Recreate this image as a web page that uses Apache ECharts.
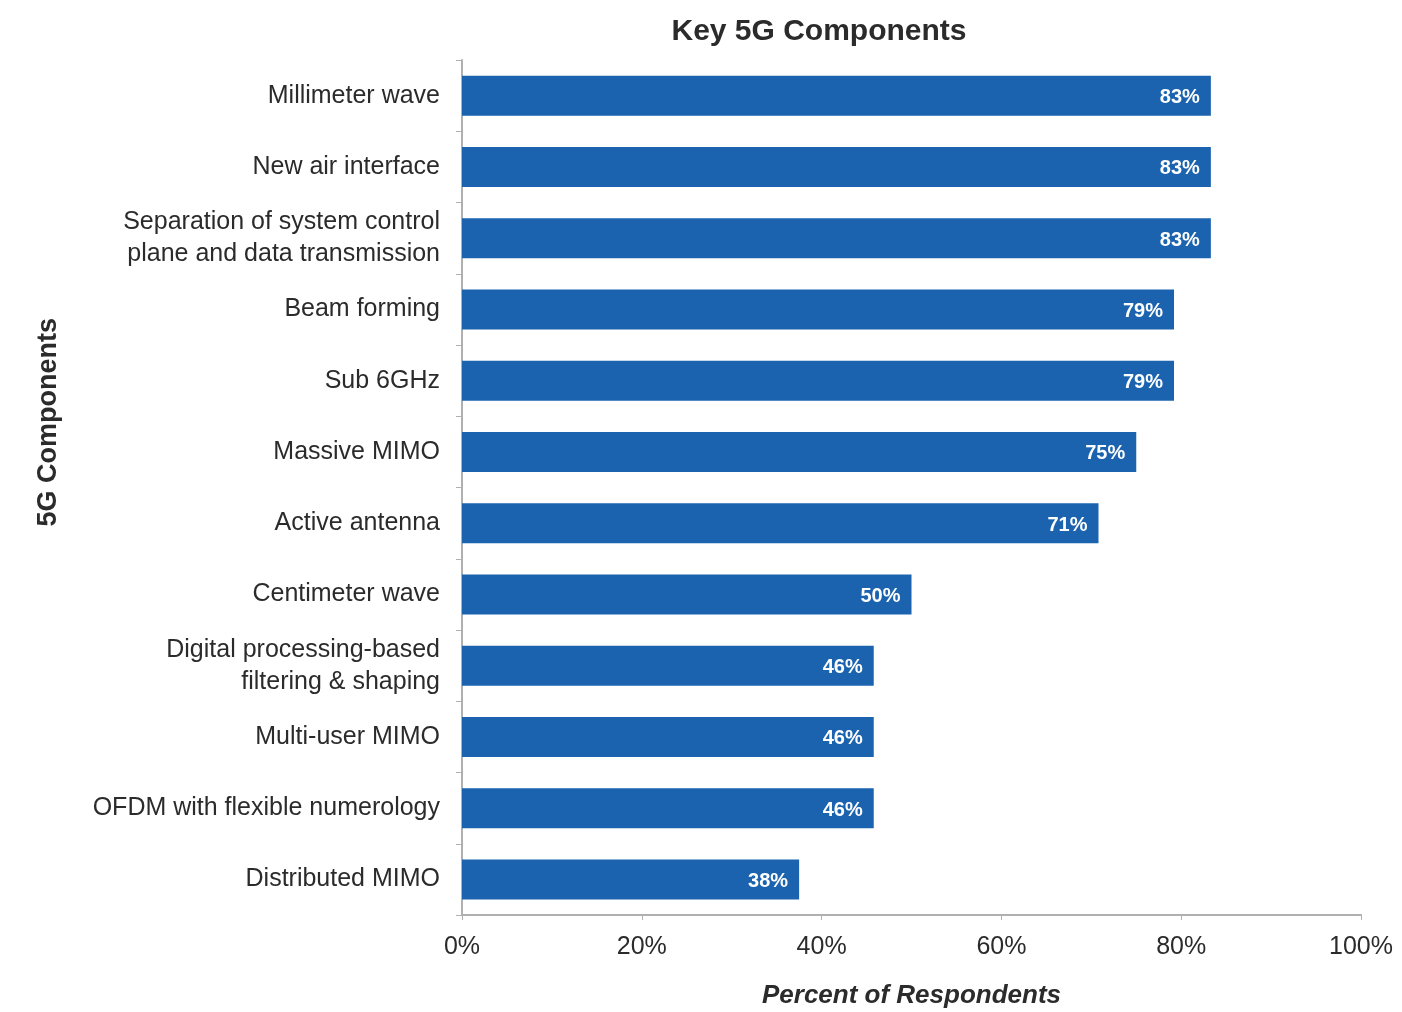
<!DOCTYPE html>
<html>
<head>
<meta charset="utf-8">
<script src="https://cdn.jsdelivr.net/npm/echarts@6/dist/echarts.min.js"></script>
<style>html,body{margin:0;padding:0;background:#fff;overflow:hidden}#c{width:1402px;height:1012px}</style>
</head>
<body>
<div id="c"></div>
<script>
const categories = [
  "Millimeter wave",
  "New air interface",
  "Separation of system control\nplane and data transmission",
  "Beam forming",
  "Sub 6GHz",
  "Massive MIMO",
  "Active antenna",
  "Centimeter wave",
  "Digital processing-based\nfiltering & shaping",
  "Multi-user MIMO",
  "OFDM with flexible numerology",
  "Distributed MIMO"
];
const values = [83.3, 83.3, 83.3, 79.2, 79.2, 75, 70.8, 50, 45.8, 45.8, 45.8, 37.5];
const xTicks = [0, 20, 40, 60, 80, 100];

const FONT = "'Liberation Sans Narrow', 'Liberation Sans', Arial, sans-serif";
const chart = echarts.init(document.getElementById('c'));
chart.setOption({
  backgroundColor: '#ffffff',
  animation: false,
  title: {
    text: 'Key 5G Components',
    left: 814, top: 12, textAlign: 'center',
    textStyle: { fontFamily: FONT, fontSize: 30, fontWeight: 'bold', color: '#2b2b2b' }
  },
  grid: { left: 462, right: 41, top: 60, bottom: 97, containLabel: false, outerBoundsMode: 'none' },
  xAxis: {
    type: 'value', min: xTicks[0], max: xTicks[xTicks.length - 1], interval: 20,
    name: 'Percent of Respondents', nameLocation: 'middle', nameGap: 68,
    nameTextStyle: { fontFamily: FONT, fontSize: 26, fontWeight: 'bold', fontStyle: 'italic', color: '#2b2b2b' },
    axisLine: { show: true, lineStyle: { color: '#b0b0b0', width: 2 } },
    axisTick: { show: true, length: 5, lineStyle: { color: '#b0b0b0' } },
    splitLine: { show: false },
    axisLabel: { formatter: '{value}%', fontFamily: FONT, fontSize: 25, color: '#2b2b2b', margin: 20 }
  },
  yAxis: {
    type: 'category', data: categories, inverse: true,
    axisLine: { show: true, lineStyle: { color: '#b0b0b0', width: 2 } },
    axisTick: { show: true, length: 6, alignWithLabel: false, lineStyle: { color: '#b0b0b0' } },
    axisLabel: { fontFamily: FONT, fontSize: 25, color: '#2b2b2b', margin: 22, lineHeight: 32, align: 'right' }
  },
  graphic: [{
    type: 'text', left: 35, top: 318, rotation: Math.PI / 2,
    style: { text: '5G Components', font: "bold 27px " + FONT, fill: '#2b2b2b' }
  }],
  series: [{
    type: 'bar', data: values, barWidth: 40,
    itemStyle: { color: '#1b63ae' },
    label: {
      show: true, position: 'insideRight', offset: [-6, 2],
      formatter: function (p) { return Math.round(p.value) + '%'; },
      fontFamily: FONT, fontSize: 20, fontWeight: 'bold', color: '#ffffff'
    }
  }]
});
</script>
</body>
</html>
